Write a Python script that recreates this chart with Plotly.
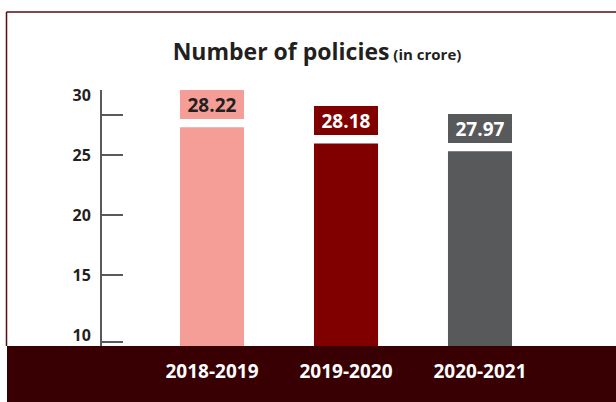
import plotly.graph_objects as go

# Data
categories = ["2018-2019", "2019-2020", "2020-2021"]
policies_crore = [28.22, 28.18, 27.97]          # printed value labels
bar_heights = [27.35, 26.0, 25.35]              # bar tops as drawn against the axis
y_tick_values = [10, 15, 20, 25, 30]
y_tick_labels = ["10", "15", "20", "25", "30"]
y_tick_marks = [9.42, 15.0, 20.05, 25.05, 28.38]  # positions of the tick strokes

bar_colors = ["#F59E98", "#800000", "#58595B"]
label_text_colors = ["#231F20", "#FFFFFF", "#FFFFFF"]

W, H = 616, 402
FONT = "Open Sans"
yr = [9.08, 30.46]
xr = [-0.821, 3.015]

fig = go.Figure()
fig.add_trace(go.Bar(
    x=categories, y=bar_heights, marker=dict(color=bar_colors, line=dict(width=0)),
    width=0.478, hoverinfo="skip", showlegend=False,
))
# invisible trace to carry the tick-stroke axis
fig.add_trace(go.Scatter(x=categories, y=bar_heights, mode="none", yaxis="y2",
                         hoverinfo="skip", showlegend=False))

for cat, h, val, bc, tc in zip(categories, bar_heights, policies_crore, bar_colors, label_text_colors):
    fig.add_annotation(
        x=cat, y=h, xref="x", yref="y", text=f"<b>{val:.2f}</b>",
        showarrow=False, yanchor="bottom", yshift=8,
        bgcolor=bc, width=64, height=29, borderpad=0, borderwidth=0,
        font=dict(family=FONT, size=19, color=tc), align="center", valign="middle",
    )

# bottom band and frame lines
fig.add_shape(type="rect", xref="paper", yref="paper", x0=7/W, x1=1.01, y0=-0.01, y1=56/H,
              fillcolor="#380003", line=dict(width=0), layer="below")
fig.add_shape(type="line", xref="paper", yref="paper", x0=6.5/W, x1=1.01, y0=1-12/H, y1=1-12/H,
              line=dict(color="#5A0A0A", width=1.5))
fig.add_shape(type="line", xref="paper", yref="paper", x0=6.5/W, x1=6.5/W, y0=56/H, y1=1-12/H,
              line=dict(color="#5A0A0A", width=1.5))

fig.update_layout(
    width=W, height=H,
    margin=dict(l=0, r=0, t=0, b=0, autoexpand=False),
    paper_bgcolor="white", plot_bgcolor="white",
    font=dict(family=FONT),
    title=dict(
        text="<b>Number of policies</b><span style='font-size:15px'><b> (in crore)</b></span>",
        x=317/W, y=1-52/H, xanchor="center", yanchor="middle", xref="paper", yref="paper",
        font=dict(family=FONT, size=23, color="#231F20"),
    ),
    xaxis=dict(
        domain=[102/W, 1], range=xr, type="category", automargin=False,
        showline=False, showgrid=False, zeroline=False, ticks="",
        tickfont=dict(family=FONT, size=19, color="#FFFFFF", weight="bold"),
        ticklabelstandoff=12,
    ),
    yaxis=dict(
        domain=[56/H, 1-90/H], range=yr, automargin=False,
        showline=True, linecolor="#58595B", linewidth=2,
        showgrid=False, zeroline=False, ticks="",
        tickmode="array", tickvals=y_tick_values, ticktext=y_tick_labels,
        tickfont=dict(family=FONT, size=16, color="#231F20", weight="bold"),
        ticklabelstandoff=6,
    ),
    yaxis2=dict(
        overlaying="y", side="left", range=yr, anchor="x", automargin=False,
        showline=False, showgrid=False, zeroline=False, showticklabels=False,
        ticks="inside", ticklen=21, tickwidth=2, tickcolor="#58595B",
        tickmode="array", tickvals=y_tick_marks,
    ),
)

fig.write_html("out.html", config={"displayModeBar": False},
               post_script="document.body.style.margin='0';")
